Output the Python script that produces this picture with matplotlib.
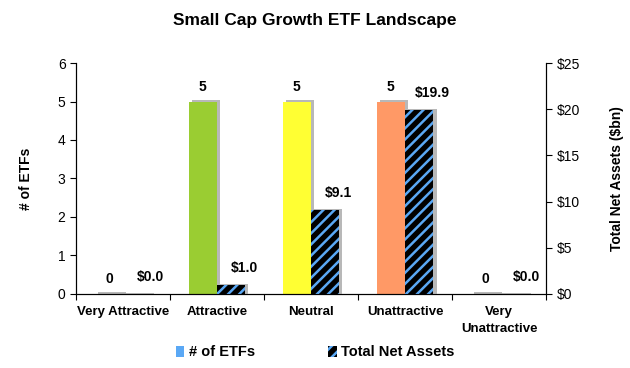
import matplotlib
matplotlib.use("Agg")
import matplotlib.pyplot as plt
import numpy as np
from matplotlib.patches import Patch

plt.rcParams['font.family'] = ['Liberation Sans', 'DejaVu Sans']
plt.rcParams['hatch.linewidth'] = 1.8
plt.rcParams['hatch.color'] = '#5aa8f5'

categories = ["Very Attractive", "Attractive", "Neutral", "Unattractive", "Very\nUnattractive"]
num_etfs = [0, 5, 5, 5, 0]
net_assets = [0.0, 1.0, 9.1, 19.9, 0.0]
count_labels = ["0", "5", "5", "5", "0"]
asset_labels = ["$0.0", "$1.0", "$9.1", "$19.9", "$0.0"]
bar_colors = ["#00a651", "#9acd32", "#ffff33", "#ff9966", "#e03c31"]

fig = plt.figure(figsize=(6.3, 3.68), dpi=100)
ax = fig.add_axes([0.1206, 0.2011, 0.7461, 0.6277])
ax2 = ax.twinx()

x = np.arange(len(categories))
w = 0.3
shadow = "#b8b8b8"
sdx = 0.035

# shadows
ax.bar(x - w/2 + sdx, [v + 0.03 if v else 0.04 for v in num_etfs], w,
       color=shadow, zorder=1)
ax.bar(x - w/2, num_etfs, w, color=bar_colors, zorder=2)

ax2.bar(x + w/2 + sdx, [v + 0.12 if v else 0.16 for v in net_assets], w,
        color=shadow, zorder=1)
ax2.bar(x + w/2, net_assets, w, color="black", edgecolor="#5aa8f5",
        hatch="///", linewidth=0, zorder=2)

for xi, v, lab in zip(x, num_etfs, count_labels):
    ax.text(xi - w/2, v + 0.2, lab, ha="center", va="bottom",
            fontsize=10, fontweight="bold")
for xi, v, lab in zip(x, net_assets, asset_labels):
    ax2.text(xi + w/2 + 0.14, v + 1.1, lab, ha="center", va="bottom",
             fontsize=10, fontweight="bold")

ax.set_xlim(-0.5, 4.5)
ax.set_ylim(0, 6)
ax2.set_ylim(0, 25)
ax.set_yticks(range(0, 7))
ax2.set_yticks(range(0, 26, 5))
ax2.set_yticklabels([f"${v}" for v in range(0, 26, 5)])

ax.set_xticks(np.arange(-0.5, 5, 1))
ax.set_xticklabels([])
ax.set_xticks(x, minor=True)
ax.set_xticklabels(categories, minor=True, fontsize=9.5, fontweight="bold",
                   linespacing=1.5)
ax.tick_params(axis="x", which="minor", length=0, pad=9)
ax.tick_params(axis="x", which="major", length=4, direction="out")
ax.tick_params(axis="y", labelsize=10, length=4)
ax2.tick_params(axis="y", labelsize=10, length=4)

for a in (ax, ax2):
    a.spines["top"].set_visible(False)

ax.set_ylabel("# of ETFs", fontsize=10, fontweight="bold", labelpad=18)
ax2.set_ylabel("Total Net Assets ($bn)", fontsize=10, fontweight="bold", labelpad=22)

fig.text(0.5, 0.945, "Small Cap Growth ETF Landscape", ha="center", va="center",
         fontsize=12.5, fontweight="bold")

handles = [Patch(facecolor="#5aa8f5", edgecolor="none"),
           Patch(facecolor="black", edgecolor="#5aa8f5", hatch="///", linewidth=0)]
fig.legend(handles, ["# of ETFs", "Total Net Assets"], loc="center",
           bbox_to_anchor=(0.5, 0.043), ncol=2, frameon=False,
           prop={"size": 10.5, "weight": "bold"}, handlelength=0.6,
           handleheight=0.8, handletextpad=0.3, columnspacing=5)

fig.savefig("out.png", dpi=100)
